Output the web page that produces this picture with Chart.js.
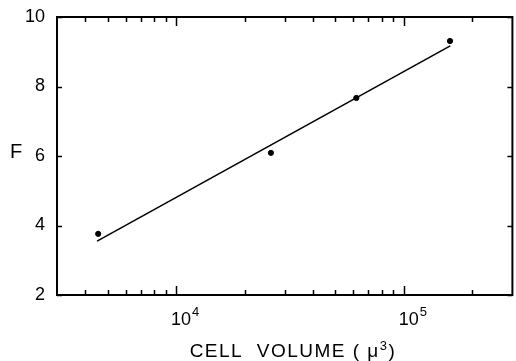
<!DOCTYPE html>
<html>
<head>
<meta charset="utf-8">
<script src="https://cdn.jsdelivr.net/npm/chart.js@4"></script>
<style>
  html, body { margin: 0; padding: 0; background: #fff; }
  #wrap { width: 516px; height: 361px; }
</style>
</head>
<body>
<div id="wrap"><canvas id="myChart" width="516" height="361"></canvas></div>
<script>
// Measured points (cell volume in cubic microns, F)
const cellVolume = [4550, 26100, 61900, 159600];
const fValues = [3.76, 6.09, 7.67, 9.31];

// Fitted line end points
const fitVolume = [4500, 160000];
const fitValues = [3.55, 9.17];

// Axis ticks
const xMajorTicks = [10000, 100000];
const xTickExponents = ['4', '5'];
const xMinorTicks = [4000, 5000, 6000, 7000, 8000, 9000,
    20000, 30000, 40000, 50000, 60000, 70000, 80000, 90000, 200000];
const yTicks = [2, 4, 6, 8, 10];

const FONT = "'Liberation Sans', 'DejaVu Sans', sans-serif";

// draw a run of [text, size, raise] parts, centred on cx
function drawParts(ctx, parts, cx, baseline, spacing) {
    ctx.letterSpacing = spacing;
    let total = 0;
    parts.forEach(p => {
        ctx.font = p[1] + 'px ' + FONT;
        total += ctx.measureText(p[0]).width;
    });
    let xPos = cx - total / 2;
    parts.forEach(p => {
        ctx.font = p[1] + 'px ' + FONT;
        ctx.fillText(p[0], xPos, baseline - p[2]);
        xPos += ctx.measureText(p[0]).width;
    });
}

// Box frame with inward ticks on all four sides, power-of-ten labels and axis titles
const frameTicks = {
    id: 'frameTicks',
    afterDatasetsDraw(chart) {
        const { ctx, chartArea: a, scales: { x, y } } = chart;
        ctx.save();
        ctx.strokeStyle = '#000';
        ctx.lineWidth = 2;
        ctx.strokeRect(a.left, a.top, a.right - a.left, a.bottom - a.top);

        ctx.lineWidth = 1.5;
        ctx.beginPath();
        xMinorTicks.forEach(v => {
            const px = Math.round(x.getPixelForValue(v)) + 0.5;
            ctx.moveTo(px, a.bottom); ctx.lineTo(px, a.bottom - 5);
            ctx.moveTo(px, a.top); ctx.lineTo(px, a.top + 5);
        });
        xMajorTicks.forEach(v => {
            const px = Math.round(x.getPixelForValue(v)) + 0.5;
            ctx.moveTo(px, a.bottom); ctx.lineTo(px, a.bottom - 9);
            ctx.moveTo(px, a.top); ctx.lineTo(px, a.top + 9);
        });
        yTicks.forEach(v => {
            const py = Math.round(y.getPixelForValue(v)) + 0.5;
            ctx.moveTo(a.left, py); ctx.lineTo(a.left + 5, py);
            ctx.moveTo(a.right, py); ctx.lineTo(a.right - 5, py);
        });
        ctx.stroke();

        ctx.fillStyle = '#000';
        ctx.textBaseline = 'alphabetic';
        ctx.textAlign = 'left';

        // x tick labels: 10 with raised exponent
        xMajorTicks.forEach((v, i) => {
            const px = x.getPixelForValue(v);
            ctx.font = '18px ' + FONT;
            ctx.fillText('10', px - 5, a.bottom + 30);
            const w = ctx.measureText('10').width;
            ctx.font = '13px ' + FONT;
            ctx.fillText(xTickExponents[i], px - 5 + w + 1, a.bottom + 21);
        });

        // axis titles
        ctx.font = '20px ' + FONT;
        ctx.fillText('F', 10, 158);
        drawParts(ctx, [
            ['CELL  VOLUME ( μ', 19, 0],
            ['3', 13, 7],
            [')', 19, 0]
        ], 293, 357, '1.5px');
        ctx.restore();
    }
};

const ctx = document.getElementById('myChart').getContext('2d');
new Chart(ctx, {
    type: 'scatter',
    data: {
        datasets: [{
            label: 'F',
            data: cellVolume.map((v, i) => ({ x: v, y: fValues[i] })),
            backgroundColor: '#000',
            borderColor: '#000',
            pointRadius: 2.6,
            pointHoverRadius: 2.6
        }, {
            label: 'fit',
            type: 'line',
            data: fitVolume.map((v, i) => ({ x: v, y: fitValues[i] })),
            borderColor: '#000',
            borderWidth: 1.6,
            pointRadius: 0,
            fill: false
        }]
    },
    options: {
        responsive: false,
        animation: false,
        layout: { padding: { top: 17, right: 1, left: 0, bottom: 0 } },
        plugins: {
            legend: { display: false },
            tooltip: { enabled: false }
        },
        scales: {
            x: {
                type: 'logarithmic',
                min: 3000,
                max: 300000,
                grid: { display: false },
                border: { display: false },
                afterBuildTicks: scale => {
                    scale.ticks = xMajorTicks.map(v => ({ value: v }));
                },
                afterFit: scale => { scale.height = 66; },
                ticks: { display: false }
            },
            y: {
                min: 2,
                max: 10,
                grid: { display: false },
                border: { display: false },
                afterBuildTicks: scale => {
                    scale.ticks = yTicks.map(v => ({ value: v }));
                },
                afterFit: scale => { scale.width = 57; },
                ticks: {
                    color: '#000',
                    font: { family: FONT, size: 18 },
                    padding: 4
                }
            }
        }
    },
    plugins: [frameTicks]
});
</script>
</body>
</html>
